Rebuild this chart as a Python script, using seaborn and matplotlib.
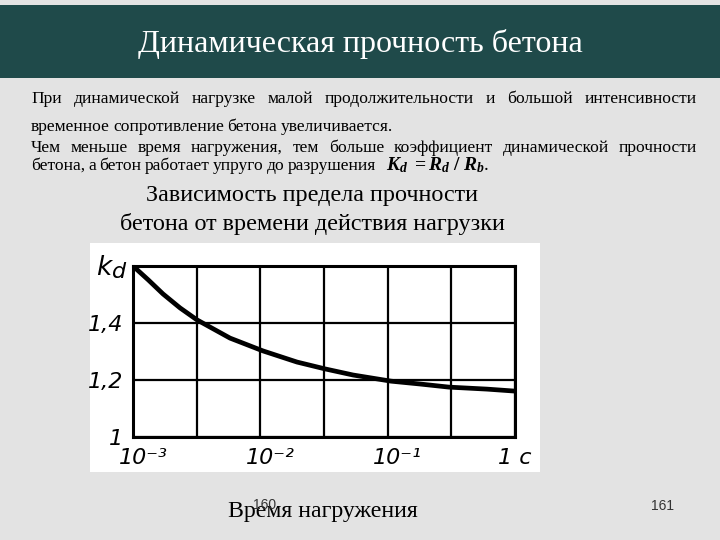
import numpy as np
import pandas as pd
import matplotlib
matplotlib.use("Agg")
import matplotlib.pyplot as plt
from matplotlib.patches import Rectangle
from matplotlib.transforms import ScaledTranslation
import seaborn as sns

# ---- data ----
time_s = [0.001, 0.00132, 0.00172, 0.00234, 0.00318, 0.00578, 0.0105, 0.0194, 0.0322,
          0.0535, 0.106, 0.179, 0.303, 0.603, 1.0]
kd_vals = [1.600, 1.551, 1.502, 1.453, 1.411, 1.347, 1.302, 1.263, 1.239,
           1.2175, 1.196, 1.186, 1.175, 1.168, 1.161]
grid_x = [1e-3, 10**-2.5, 1e-2, 10**-1.5, 1e-1, 10**-0.5, 1.0]
x_labels = ["10⁻³", "", "10⁻²", "", "10⁻¹", "", "1 c"]
y_ticks = [1.0, 1.2, 1.4]
y_labels = ["1", "1,2", "1,4"]

title = "Динамическая прочность бетона"
body_lines = [
    ("При динамической нагрузке малой продолжительности и большой интенсивности", True),
    ("временное сопротивление бетона увеличивается.", False),
    ("Чем меньше время нагружения, тем больше коэффициент динамической прочности", True),
    ("бетона, а бетон работает упруго до разрушения", False),
]
subtitle = ["Зависимость предела прочности", "бетона от времени действия нагрузки"]
xlabel_text = "Время нагружения"

sns.set_style("white")
plt.rcParams["font.family"] = ["Liberation Serif", "DejaVu Serif"]
plt.rcParams["text.color"] = "black"
plt.rcParams["mathtext.fontset"] = "custom"
plt.rcParams["mathtext.rm"] = "Liberation Serif"
plt.rcParams["mathtext.it"] = "Liberation Serif:italic"
plt.rcParams["mathtext.bf"] = "Liberation Serif:bold"
plt.rcParams["mathtext.bfit"] = "Liberation Serif:italic:bold"

W, H = 720, 540
fig = plt.figure(figsize=(7.2, 5.4), dpi=100)
fig.patch.set_facecolor("#e3e3e3")

def fx(x):
    return x / W

def fy(y):
    return 1 - y / H

# title bar
fig.patches.append(Rectangle((0, fy(78)), 1, (78 - 5) / H, transform=fig.transFigure,
                             facecolor="#1f4a4a", edgecolor="none", zorder=-2))
fig.text(0.5, fy(44), title, color="white", fontsize=23, ha="center", va="center")

# body text (justified lines)
fig.canvas.draw()
renderer = fig.canvas.get_renderer()
baselines = [103, 131, 152, 170]
fs_body = 12.6
last_end = 31
for (line, just), yb in zip(body_lines, baselines):
    words = line.split(" ")
    texts = [fig.text(0, fy(yb), w, fontsize=fs_body, va="baseline", ha="left", color="black")
             for w in words]
    widths = [t.get_window_extent(renderer).width for t in texts]
    if just:
        gap = (697 - 31 - sum(widths)) / (len(words) - 1)
    else:
        gap = 3.3
    x = 31
    for t, w in zip(texts, widths):
        t.set_x(fx(x))
        x += w + gap
    last_end = x
fig.text(fx(last_end + 6), fy(170), r"$\mathbfit{K_d}\ \mathbf{=}\mathbfit{R_d}\ \mathbf{/}\ \mathbfit{R_b}$.",
         fontsize=14, va="baseline", ha="left", color="black")

# subtitle
fig.text(fx(312), fy(196), subtitle[0], fontsize=17.4, ha="center", va="center", color="black")
fig.text(fx(312), fy(224), subtitle[1], fontsize=17.4, ha="center", va="center", color="black")

# white picture area
fig.patches.append(Rectangle((fx(90), fy(472)), 450 / W, (472 - 243) / H, transform=fig.transFigure,
                             facecolor="white", edgecolor="none", zorder=-1))

# axes
ax = fig.add_axes([fx(133), fy(437), (515 - 133) / W, (437 - 266) / H])
ax.set_zorder(1)
ax.set_facecolor("white")
df = pd.DataFrame({"t": time_s, "kd": kd_vals})
sns.lineplot(data=df, x="t", y="kd", ax=ax, color="black", lw=3.4, zorder=5)
ax.set_xscale("log")
ax.set_xlim(1e-3, 1.0)
ax.set_ylim(1.0, 1.6)
ax.set_xticks(grid_x)
ax.set_xticklabels(x_labels)
ax.set_yticks(y_ticks)
ax.set_yticklabels(y_labels)
ax.xaxis.set_minor_locator(matplotlib.ticker.NullLocator())
ax.set_xlabel("")
ax.set_ylabel("")
ax.grid(True, color="black", lw=1.6)
ax.tick_params(axis="x", length=0, pad=8, labelcolor="black")
ax.tick_params(axis="y", length=0, pad=7, labelcolor="black")
for lab in ax.get_xticklabels() + ax.get_yticklabels():
    lab.set_fontfamily("DejaVu Sans")
    lab.set_fontstyle("italic")
    lab.set_fontsize(16)
shift = ScaledTranslation(10 / 100, 0, fig.dpi_scale_trans)
for lab in ax.get_xticklabels()[:-1]:
    lab.set_transform(lab.get_transform() + shift)
for s in ax.spines.values():
    s.set_color("black")
    s.set_linewidth(2.2)
    s.set_visible(True)

fig.text(fx(104), fy(268), "k", fontsize=19, family="DejaVu Sans", style="italic", ha="center", va="center")
fig.text(fx(119), fy(272), "d", fontsize=16, family="DejaVu Sans", style="italic", ha="center", va="center")

# bottom texts
fig.text(fx(323), fy(511), xlabel_text, fontsize=17.2, ha="center", va="center", color="black")
fig.text(fx(265), fy(505), "160", fontsize=10, family="Liberation Sans", ha="center", va="center", color="#333333")
fig.text(fx(663), fy(506), "161", fontsize=10, family="Liberation Sans", ha="center", va="center", color="#333333")

fig.savefig("out.png", dpi=100, facecolor=fig.get_facecolor())
